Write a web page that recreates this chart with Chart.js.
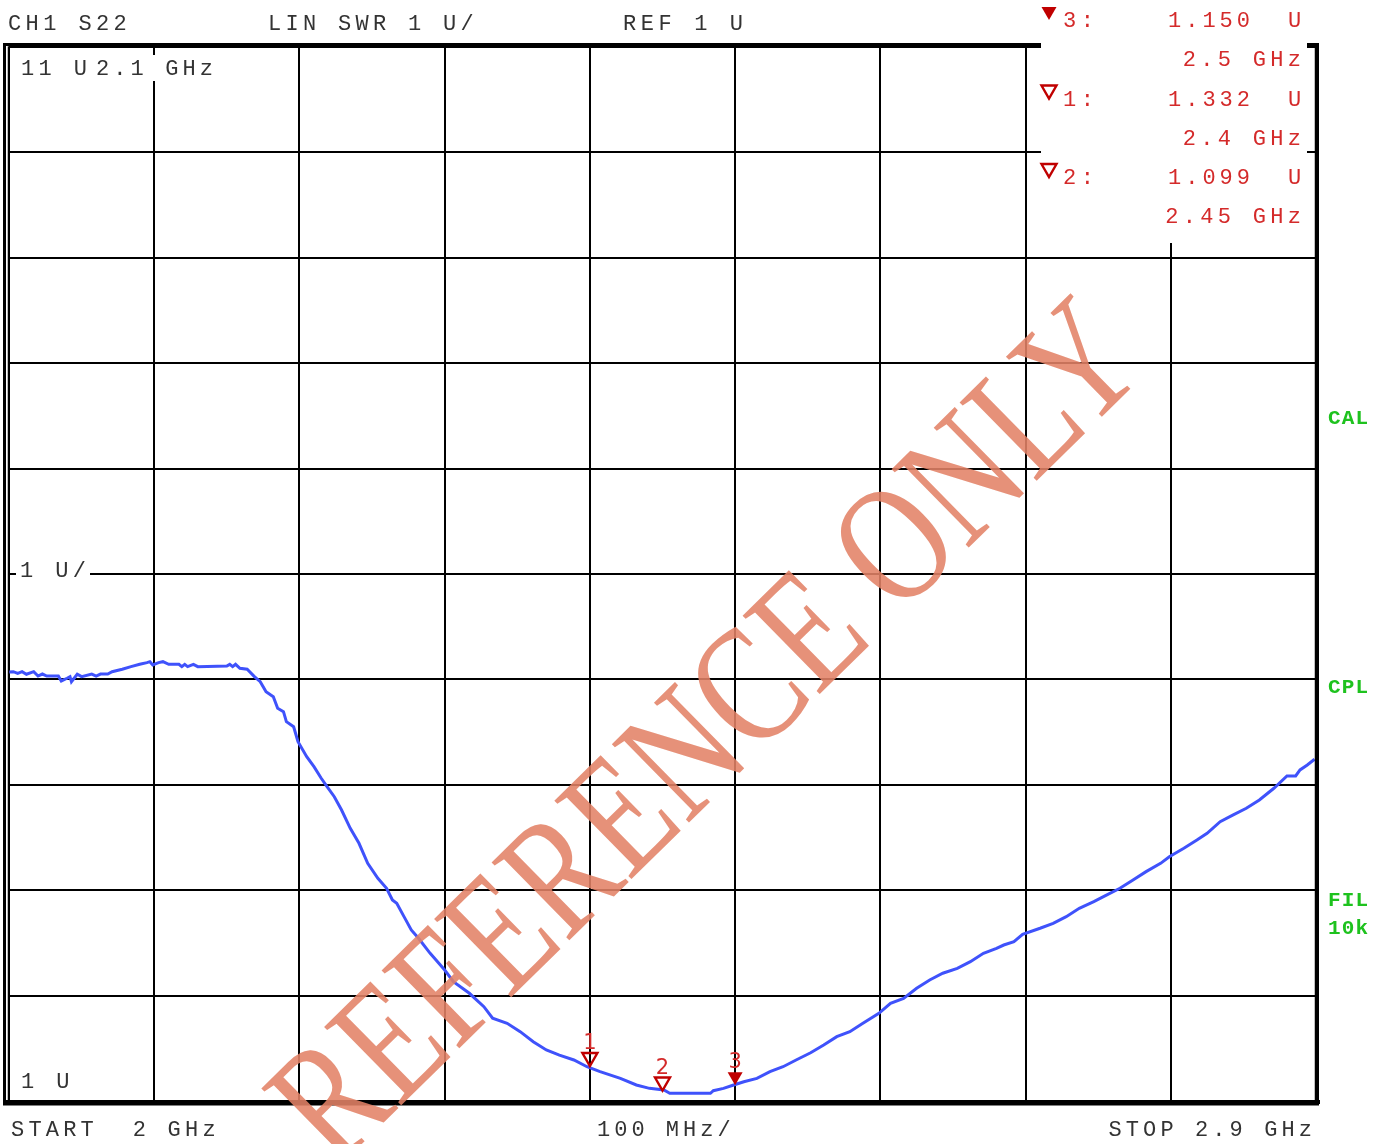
<!DOCTYPE html>
<html>
<head>
<meta charset="utf-8">
<script src="https://cdn.jsdelivr.net/npm/chart.js@4.4.1/dist/chart.umd.min.js"></script>
<style>
html, body { margin: 0; padding: 0; background: #fff; }
canvas { display: block; }
</style>
</head>
<body>
<canvas id="swr" width="1391" height="1144"></canvas>
<script>
// trace: frequency (GHz) and SWR (U)
const freqGHz = [
  2.000, 2.003, 2.006, 2.009, 2.012, 2.017, 2.020, 2.023, 2.026, 2.034,
  2.036, 2.040, 2.042, 2.043, 2.047, 2.050, 2.057, 2.060, 2.063, 2.068,
  2.071, 2.078, 2.084, 2.090, 2.095, 2.097, 2.099, 2.103, 2.106, 2.110,
  2.117, 2.119, 2.121, 2.123, 2.127, 2.130, 2.150, 2.152, 2.154, 2.156,
  2.159, 2.164, 2.169, 2.173, 2.177, 2.182, 2.185, 2.189, 2.191, 2.196,
  2.199, 2.205, 2.210, 2.215, 2.219, 2.224, 2.229, 2.235, 2.241, 2.247,
  2.254, 2.260, 2.264, 2.267, 2.272, 2.277, 2.282, 2.290, 2.296, 2.300,
  2.306, 2.317, 2.327, 2.333, 2.343, 2.352, 2.361, 2.370, 2.379, 2.389,
  2.398, 2.407, 2.421, 2.432, 2.441, 2.451, 2.455, 2.483, 2.485, 2.492,
  2.499, 2.506, 2.515, 2.524, 2.533, 2.542, 2.552, 2.561, 2.570, 2.579,
  2.588, 2.599, 2.607, 2.616, 2.625, 2.634, 2.643, 2.653, 2.662, 2.671,
  2.680, 2.685, 2.692, 2.698, 2.710, 2.719, 2.728, 2.737, 2.747, 2.756,
  2.765, 2.774, 2.783, 2.793, 2.799, 2.809, 2.818, 2.825, 2.834, 2.843,
  2.852, 2.861, 2.871, 2.880, 2.886, 2.889, 2.894, 2.899
];
const swr = [
  5.070, 5.073, 5.058, 5.073, 5.049, 5.073, 5.032, 5.051, 5.032, 5.032,
  4.985, 5.011, 5.026, 4.978, 5.049, 5.026, 5.051, 5.032, 5.051, 5.051,
  5.073, 5.096, 5.121, 5.143, 5.159, 5.168, 5.137, 5.159, 5.168, 5.143,
  5.143, 5.121, 5.143, 5.121, 5.143, 5.121, 5.127, 5.143, 5.121, 5.143,
  5.105, 5.096, 5.026, 4.978, 4.883, 4.836, 4.726, 4.694, 4.599, 4.551,
  4.409, 4.267, 4.172, 4.062, 3.982, 3.887, 3.761, 3.587, 3.445, 3.255,
  3.113, 3.018, 2.907, 2.876, 2.749, 2.623, 2.544, 2.401, 2.306, 2.243,
  2.132, 2.022, 1.895, 1.785, 1.737, 1.658, 1.563, 1.484, 1.436, 1.389,
  1.325, 1.278, 1.215, 1.152, 1.120, 1.104, 1.073, 1.073, 1.098, 1.120,
  1.152, 1.183, 1.215, 1.278, 1.325, 1.389, 1.458, 1.531, 1.610, 1.658,
  1.737, 1.832, 1.927, 1.974, 2.069, 2.148, 2.212, 2.259, 2.322, 2.401,
  2.449, 2.480, 2.511, 2.582, 2.639, 2.686, 2.749, 2.828, 2.891, 2.955,
  3.018, 3.097, 3.176, 3.255, 3.318, 3.398, 3.476, 3.540, 3.650, 3.714,
  3.777, 3.856, 3.967, 4.084, 4.084, 4.141, 4.188, 4.242
];

// markers
const markerNo = [1, 2, 3];
const markerFreq = [2.4, 2.45, 2.5];
const markerSwr = [1.332, 1.099, 1.150];
const activeMarker = 3;

// sweep / scale settings
const startGHz = 2.0, stopGHz = 2.9, stepGHz = 0.1;
const refU = 1, perDivU = 1, divsY = 10;

const MONO = '"Liberation Mono", "DejaVu Sans Mono", monospace';
const GREY = '#333';
const RED = '#d42a2a';
const DARKRED = '#c00000';
const GREEN = '#1ec21e';

function txt(ctx, s, x, y, color, opts = {}) {
  ctx.save();
  ctx.font = opts.font || ('22px ' + MONO);
  const sp = opts.spacing ?? 4.3;
  ctx.letterSpacing = sp + 'px';
  ctx.textBaseline = 'alphabetic';
  ctx.textAlign = 'left';
  const w = ctx.measureText(s).width - sp;
  let x0 = x;
  if (opts.align === 'right') x0 = x - w;
  if (opts.align === 'center') x0 = x - w / 2;
  if (opts.bg) {
    ctx.fillStyle = '#fff';
    ctx.fillRect(x0 - 4, y - 20, w + 8, 26);
  }
  ctx.fillStyle = color;
  ctx.fillText(s, x0, y);
  ctx.restore();
}

function triangle(ctx, cx, tipY, filled, color) {
  ctx.save();
  ctx.beginPath();
  ctx.moveTo(cx - 7.5, tipY - 13);
  ctx.lineTo(cx + 7.5, tipY - 13);
  ctx.lineTo(cx, tipY);
  ctx.closePath();
  if (filled) {
    ctx.fillStyle = color;
    ctx.fill();
  } else {
    ctx.strokeStyle = color;
    ctx.lineWidth = 2.4;
    ctx.stroke();
  }
  ctx.restore();
}

const screenPlugin = {
  id: 'screen',
  afterDatasetsDraw(chart) {
    const ctx = chart.ctx;
    const a = chart.chartArea;

    // double frame
    ctx.save();
    ctx.strokeStyle = '#000';
    ctx.lineWidth = 3;
    ctx.strokeRect(4.5, 44.5, a.right - 3, a.bottom - 41.5);
    ctx.lineWidth = 1.5;
    ctx.strokeRect(a.left - 0.5, a.top, a.right - a.left, a.bottom - a.top);
    ctx.fillStyle = '#000';
    ctx.fillRect(a.right - 1, 44, 4, a.bottom - 40);
    ctx.fillRect(4, a.bottom - 1, a.right, 4);
    ctx.restore();

    // marker readout box (blanks the grid behind it)
    ctx.fillStyle = '#fff';
    ctx.fillRect(1041, 0, 266, 243);

    // header line
    txt(ctx, 'CH1 S22', 8, 30, GREY, { spacing: 4.4 });
    txt(ctx, 'LIN SWR 1 U/', 268, 30, GREY, { spacing: 4.3 });
    txt(ctx, 'REF 1 U', 623, 30, GREY, { spacing: 4.6 });

    // in-graticule labels
    txt(ctx, '11 U', 21, 75, GREY, { spacing: 4.4 });
    txt(ctx, '2.1 GHz', 96, 75, GREY, { spacing: 4.1, bg: true });
    txt(ctx, '1 U/', 20, 577, GREY, { spacing: 4.4, bg: true });
    txt(ctx, '1 U', 21, 1088, GREY, { spacing: 4.4 });

    // footer
    txt(ctx, 'START  2 GHz', 11, 1136, GREY, { spacing: 4.2 });
    txt(ctx, '100 MHz/', 597, 1136, GREY, { spacing: 4.0 });
    txt(ctx, 'STOP 2.9 GHz', 1312, 1136, GREY, { spacing: 4.1, align: 'right' });

    // marker readouts
    const rows = [3, 1, 2];
    rows.forEach((m, r) => {
      const i = markerNo.indexOf(m);
      const y0 = 27 + r * 78.5;
      triangle(ctx, 1049, y0 - 7, m === activeMarker, DARKRED);
      txt(ctx, m + ':', 1063, y0, RED, { spacing: 4.5 });
      txt(ctx, markerSwr[i].toFixed(3), 1168, y0, RED, { spacing: 4.0 });
      txt(ctx, 'U', 1288, y0, RED, { spacing: 0 });
      txt(ctx, markerFreq[i] + ' GHz', 1301, y0 + 39, RED, { spacing: 4.3, align: 'right' });
    });

    // status labels on the right
    const bold = 'bold 21px ' + MONO;
    txt(ctx, 'CAL', 1328, 424, GREEN, { font: bold, spacing: 1.2 });
    txt(ctx, 'CPL', 1328, 693, GREEN, { font: bold, spacing: 1.2 });
    txt(ctx, 'FIL', 1328, 906, GREEN, { font: bold, spacing: 1.2 });
    txt(ctx, '10k', 1328, 934, GREEN, { font: bold, spacing: 1.2 });

    // markers on the trace
    const xs = chart.scales.x, ys = chart.scales.y;
    markerNo.forEach((m, i) => {
      const px = xs.getPixelForValue(markerFreq[i]);
      const py = ys.getPixelForValue(markerSwr[i]);
      triangle(ctx, px, py, m === activeMarker, DARKRED);
      txt(ctx, String(m), px, py - 17, RED, { font: '21px "DejaVu Sans"', spacing: 0, align: 'center' });
    });
  },
  afterDraw(chart) {
    const ctx = chart.ctx;
    ctx.save();
    ctx.translate(712, 738);
    ctx.rotate(-44.5 * Math.PI / 180);
    ctx.scale(0.88, 1.12);
    ctx.font = '150px "Liberation Serif", "DejaVu Serif", serif';
    ctx.textAlign = 'center';
    ctx.textBaseline = 'middle';
    ctx.fillStyle = 'rgba(226,130,102,0.88)';
    ctx.fillText('REFERENCE ONLY', 0, 0);
    ctx.restore();
  }
};

new Chart(document.getElementById('swr'), {
  type: 'line',
  data: {
    datasets: [{
      data: freqGHz.map((f, i) => ({ x: f, y: swr[i] })),
      borderColor: '#3f52fb',
      borderWidth: 3,
      pointRadius: 0,
      tension: 0,
      fill: false
    }]
  },
  options: {
    responsive: false,
    animation: false,
    devicePixelRatio: 1,
    layout: { padding: { left: 9, right: 75, top: 47, bottom: 43 } },
    plugins: { legend: { display: false }, tooltip: { enabled: false } },
    scales: {
      x: {
        type: 'linear',
        min: startGHz,
        max: stopGHz,
        ticks: { display: false, stepSize: stepGHz },
        grid: { color: '#000', lineWidth: 2, drawTicks: false },
        border: { display: false }
      },
      y: {
        type: 'linear',
        min: refU,
        max: refU + perDivU * divsY,
        ticks: { display: false, stepSize: perDivU },
        grid: { color: '#000', lineWidth: 2, drawTicks: false },
        border: { display: false }
      }
    }
  },
  plugins: [screenPlugin]
});
</script>
</body>
</html>
